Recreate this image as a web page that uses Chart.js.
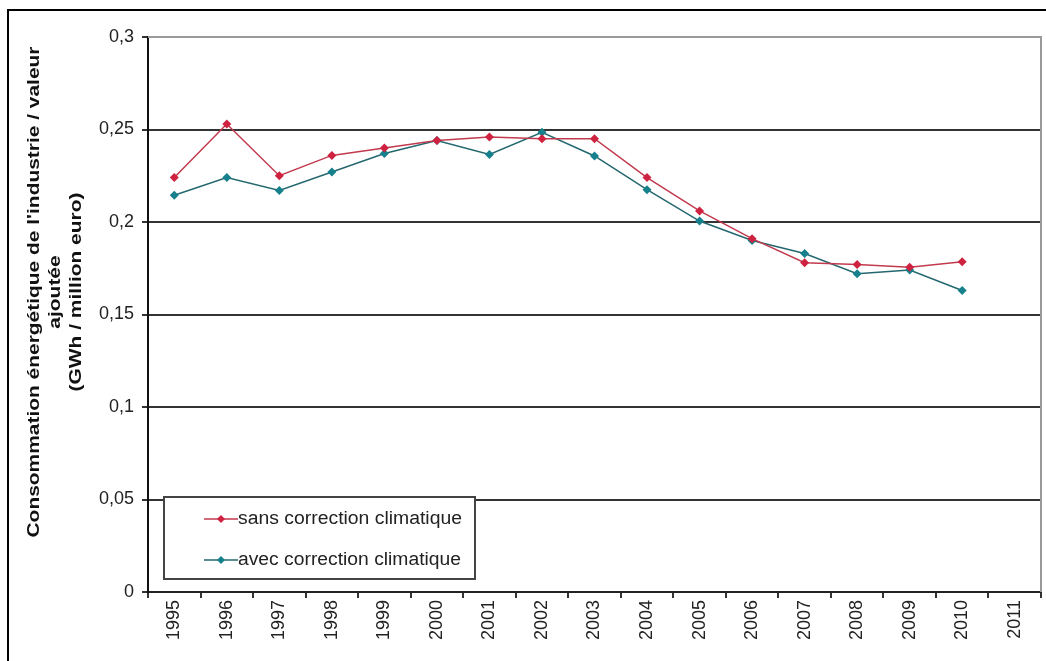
<!DOCTYPE html>
<html>
<head>
<meta charset="utf-8">
<script src="https://cdn.jsdelivr.net/npm/chart.js@4.4.1/dist/chart.umd.min.js"></script>
<style>
  html, body { margin: 0; padding: 0; background: #fff; overflow: hidden; }
  #frame { position: absolute; left: 7px; top: 9px; width: 1100px; height: 700px; border: 2px solid #000; }
  #chart { position: absolute; left: 0; top: 0; }
</style>
</head>
<body>
<div id="frame"></div>
<canvas id="chart" width="1046" height="661"></canvas>
<script>
// years on the category axis (2011 has no data)
const years = ['1995', '1996', '1997', '1998', '1999', '2000', '2001', '2002', '2003',
  '2004', '2005', '2006', '2007', '2008', '2009', '2010', '2011'];

// GWh / million euro
const sansCorrection = [0.224, 0.253, 0.225, 0.236, 0.240, 0.244, 0.246, 0.245, 0.245,
  0.224, 0.206, 0.191, 0.178, 0.177, 0.1755, 0.1785];
const avecCorrection = [0.2145, 0.224, 0.217, 0.227, 0.237, 0.244, 0.2365, 0.2485, 0.2357,
  0.2175, 0.2005, 0.190, 0.183, 0.172, 0.174, 0.163];

const seriesNames = ['sans correction climatique', 'avec correction climatique'];
const yTitle = ["Consommation énergétique de l'industrie / valeur", 'ajoutée', '(GWh / million euro)'];

const FONT = '"Liberation Sans", Arial, sans-serif';
const RED = '#cf2240';
const RED_LINE = '#c23a4e';
const TEAL = '#16808c';
const TEAL_LINE = '#24686f';

function fmt(v) {
  const r = Math.round(v * 100) / 100;
  return String(r).replace('.', ',');
}

function stretchText(ctx, text, x, y, width) {
  const w = ctx.measureText(text).width;
  ctx.save();
  ctx.translate(x, y);
  ctx.scale(width / w, 1);
  ctx.fillText(text, 0, 0);
  ctx.restore();
}

function diamond(ctx, x, y, r, color) {
  ctx.fillStyle = color;
  ctx.beginPath();
  ctx.moveTo(x, y - r);
  ctx.lineTo(x + r, y);
  ctx.lineTo(x, y + r);
  ctx.lineTo(x - r, y);
  ctx.closePath();
  ctx.fill();
}

const decorations = {
  id: 'decorations',
  afterDraw(chart) {
    const ctx = chart.ctx;
    const a = chart.chartArea;

    // right frame of plot area
    ctx.save();
    ctx.strokeStyle = '#9a9a9a';
    ctx.lineWidth = 2;
    ctx.beginPath();
    ctx.moveTo(a.left, a.top);
    ctx.lineTo(a.right, a.top);
    ctx.lineTo(a.right, a.bottom);
    ctx.stroke();
    ctx.restore();

    // y axis title, three lines rotated
    ctx.save();
    ctx.fillStyle = '#111';
    ctx.font = 'bold 17px ' + FONT;
    ctx.textAlign = 'left';
    ctx.textBaseline = 'alphabetic';
    const scale = 491 / ctx.measureText(yTitle[0]).width;
    const baselines = [39, 60, 81];
    yTitle.forEach((line, i) => {
      const w = ctx.measureText(line).width * scale;
      ctx.save();
      ctx.translate(baselines[i], 292);
      ctx.rotate(-Math.PI / 2);
      ctx.scale(scale, 1);
      ctx.fillText(line, -w / scale / 2, 0);
      ctx.restore();
    });
    ctx.restore();

    // legend box inside plot
    ctx.save();
    const bx = 164, by = 497, bw = 311, bh = 82;
    ctx.fillStyle = '#fff';
    ctx.fillRect(bx, by, bw, bh);
    ctx.strokeStyle = '#444';
    ctx.lineWidth = 2;
    ctx.strokeRect(bx, by, bw, bh);
    const rows = [
      { y: 519, line: RED_LINE, mark: RED },
      { y: 560, line: TEAL_LINE, mark: TEAL },
    ];
    ctx.font = '18px ' + FONT;
    ctx.textBaseline = 'middle';
    ctx.textAlign = 'left';
    rows.forEach((r, i) => {
      ctx.strokeStyle = r.line;
      ctx.lineWidth = 1.5;
      ctx.beginPath();
      ctx.moveTo(204, r.y);
      ctx.lineTo(238, r.y);
      ctx.stroke();
      diamond(ctx, 221, r.y, 4, r.mark);
      ctx.fillStyle = '#222';
      stretchText(ctx, seriesNames[i], 238, r.y, i === 0 ? 224 : 223);
    });
    ctx.restore();
  },
};

new Chart(document.getElementById('chart'), {
  type: 'line',
  data: {
    labels: years,
    datasets: [
      {
        label: seriesNames[0],
        data: sansCorrection,
        borderColor: RED_LINE,
        borderWidth: 1.5,
        pointStyle: 'rectRot',
        pointRadius: 4.5,
        pointBackgroundColor: RED,
        pointBorderColor: RED,
        pointBorderWidth: 0,
        tension: 0,
      },
      {
        label: seriesNames[1],
        data: avecCorrection,
        borderColor: TEAL_LINE,
        borderWidth: 1.5,
        pointStyle: 'rectRot',
        pointRadius: 4.5,
        pointBackgroundColor: TEAL,
        pointBorderColor: TEAL,
        pointBorderWidth: 0,
        tension: 0,
      },
    ],
  },
  options: {
    responsive: false,
    animation: false,
    layout: { padding: { top: 37, right: 5, left: 0, bottom: 0 } },
    plugins: { legend: { display: false }, tooltip: { enabled: false } },
    scales: {
      x: {
        offset: true,
        grid: { offset: true, drawOnChartArea: false, color: '#333', lineWidth: 2, tickLength: 6 },
        border: { color: '#222', width: 2 },
        ticks: {
          autoSkip: false,
          minRotation: 90,
          maxRotation: 90,
          padding: 2,
          color: '#222',
          font: { family: FONT, size: 18 },
        },
        afterFit(s) { s.height = 69; },
      },
      y: {
        min: 0,
        max: 0.3,
        grid: { color: '#333', lineWidth: 2, tickLength: 6 },
        border: { color: '#111', width: 2 },
        ticks: {
          stepSize: 0.05,
          padding: 8,
          color: '#222',
          font: { family: FONT, size: 18 },
          callback: (v) => fmt(v),
        },
        afterFit(s) { s.width = 148; },
      },
    },
  },
  plugins: [decorations],
});
</script>
</body>
</html>
